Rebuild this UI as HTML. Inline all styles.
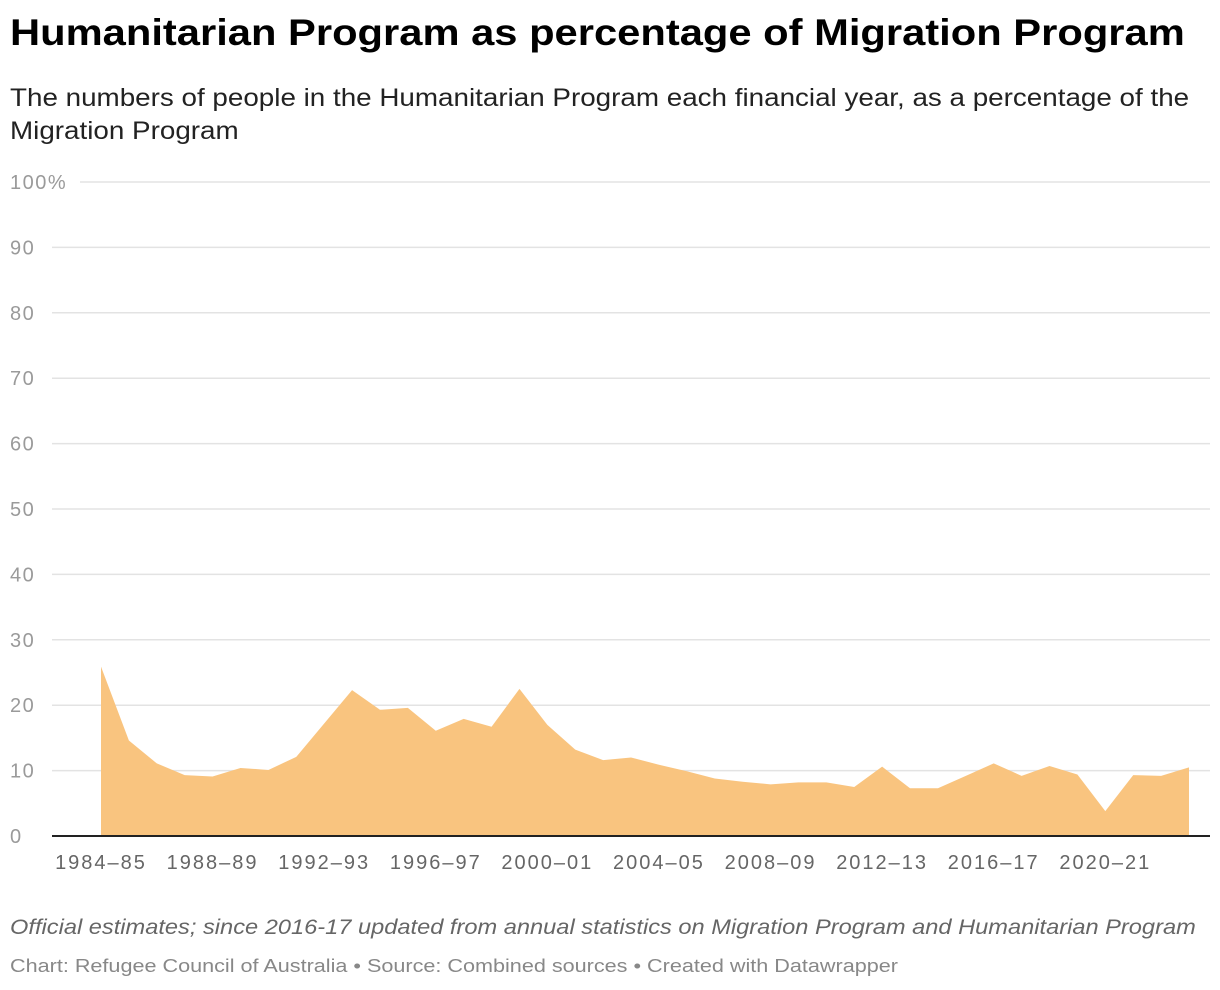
<!DOCTYPE html>
<html><head><meta charset="utf-8">
<style>
body{margin:0;width:1220px;height:990px;background:#fff;font-family:"Liberation Sans",sans-serif;overflow:hidden;position:relative}
.t{position:absolute;left:10px;white-space:nowrap;transform-origin:0 0}
h1{top:12px;margin:0;font-size:37px;font-weight:bold;color:#000;transform:scaleX(1.127)}
.sub{top:82px;font-size:25px;line-height:33px;color:#222;transform:scaleX(1.112)}
.note{top:916px;font-size:21px;font-style:italic;color:#666;transform:scaleX(1.125)}
.credit{top:956px;font-size:18px;color:#888;transform:scaleX(1.2)}
svg{position:absolute;left:0;top:0}
</style></head><body>
<svg id="chart" width="1220" height="990"></svg>
<h1 class="t">Humanitarian Program as percentage of Migration Program</h1>
<div class="t sub">The numbers of people in the Humanitarian Program each financial year, as a percentage of the<br>Migration Program</div>
<div class="t note">Official estimates; since 2016-17 updated from annual statistics on Migration Program and Humanitarian Program</div>
<div class="t credit">Chart: Refugee Council of Australia • Source: Combined sources • Created with Datawrapper</div>
<script>
const startYears=[1984,1985,1986,1987,1988,1989,1990,1991,1992,1993,1994,1995,1996,1997,1998,1999,2000,2001,2002,2003,2004,2005,2006,2007,2008,2009,2010,2011,2012,2013,2014,2015,2016,2017,2018,2019,2020,2021,2022,2023];
const values=[25.9,14.6,11.1,9.3,9.1,10.4,10.1,12.1,17.2,22.3,19.3,19.6,16.1,17.9,16.7,22.5,17.0,13.2,11.6,12.0,10.9,9.9,8.8,8.3,7.9,8.2,8.2,7.5,10.6,7.3,7.3,9.2,11.1,9.2,10.7,9.4,3.8,9.3,9.2,10.5];
const yTicks=[0,10,20,30,40,50,60,70,80,90,100];
const xTickYears=[1984,1988,1992,1996,2000,2004,2008,2012,2016,2020];
const NS="http://www.w3.org/2000/svg";
const svg=document.getElementById('chart');
const x0=101,x1=1189,y0=836,y1=182;
const xs=y=>x0+(y-1984)/(2023-1984)*(x1-x0);
const ys=v=>y0-v/100*(y0-y1);
function mk(t,a){const e=document.createElementNS(NS,t);for(const k in a)e.setAttribute(k,a[k]);svg.appendChild(e);return e;}
yTicks.forEach(t=>{
  if(t>0){const l=mk('line',{x1:t===100?80:52,x2:1210,y1:ys(t),y2:ys(t),stroke:'#e3e3e3','stroke-width':1.5});
  
  }
  const tx=mk('text',{x:10,y:ys(t)+7,'font-size':20,'letter-spacing':1.5,fill:'#9a9a9a','font-family':'Liberation Sans, sans-serif'});
  tx.textContent=t===100?'100%':String(t);
  
  
});
let d='M'+xs(startYears[0])+','+y0;
startYears.forEach((yr,i)=>{d+=' L'+xs(yr)+','+ys(values[i]);});
d+=' L'+xs(startYears[startYears.length-1])+','+y0+' Z';
const area=mk('path',{d:d,fill:'#f9c47f'});


const base=mk('line',{x1:52,x2:1210,y1:y0,y2:y0,stroke:'#222','stroke-width':2});


xTickYears.forEach(yr=>{
  const t=mk('text',{x:xs(yr),y:869,'font-size':20,'letter-spacing':2,fill:'#666','text-anchor':'middle','font-family':'Liberation Sans, sans-serif'});
  t.textContent=yr+'–'+String((yr+1)%100).padStart(2,'0');
  
  
});
</script>
</body></html>
